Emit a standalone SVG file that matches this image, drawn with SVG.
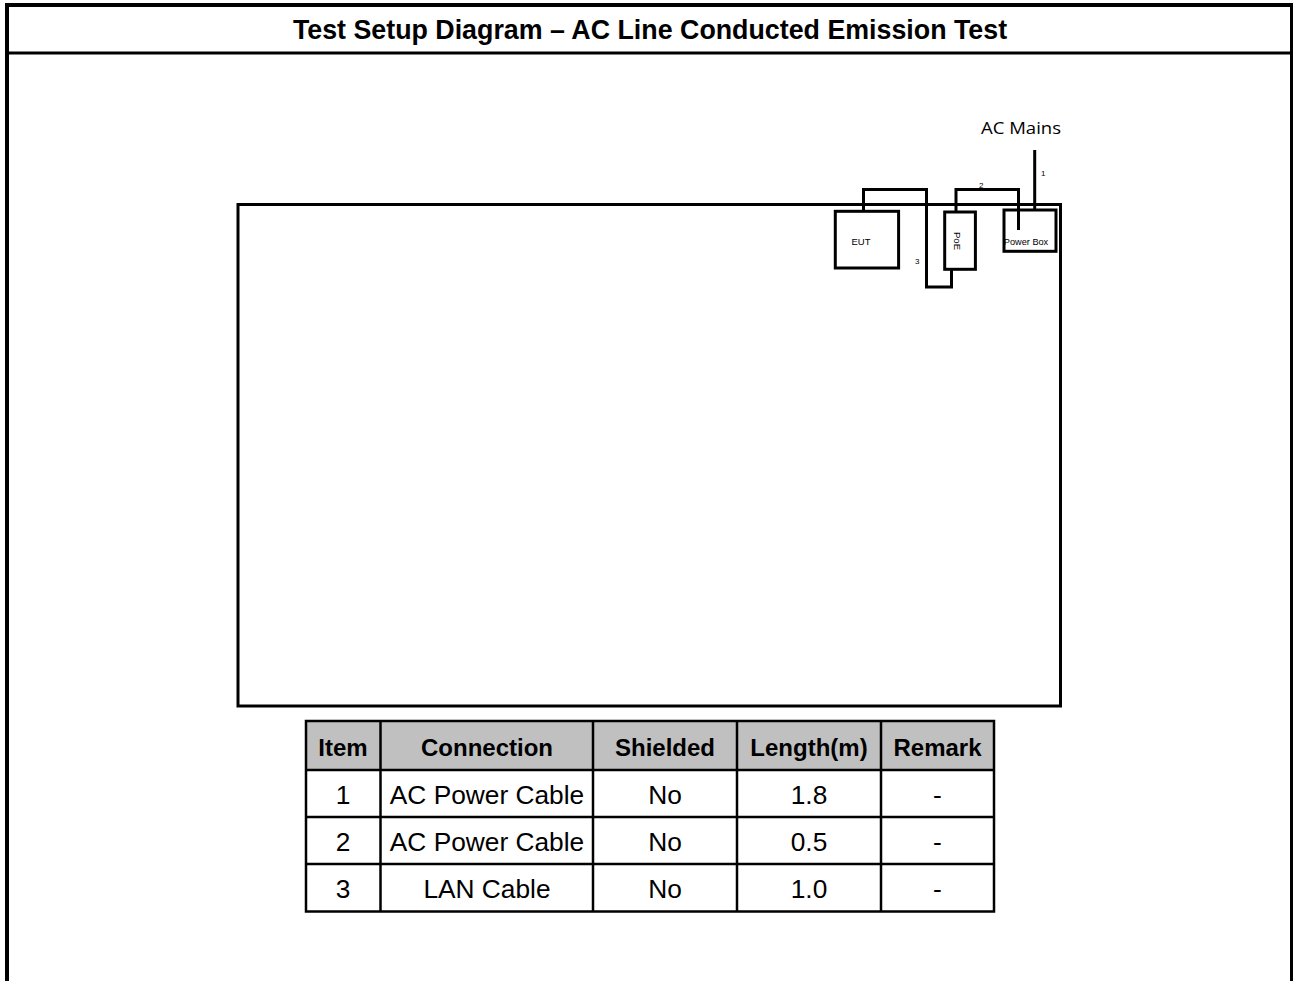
<svg xmlns="http://www.w3.org/2000/svg" width="1293" height="981" viewBox="0 0 1293 981">
<style>
.ln{stroke:#000;fill:none}
.box{stroke:#000;stroke-width:3;fill:#fff}
.cab{stroke:#000;stroke-width:3;fill:none}
.sm{font-family:"Liberation Sans",Arial,sans-serif;fill:#000}
.th{font-family:"Liberation Sans",Arial,sans-serif;font-weight:bold;font-size:24px;text-anchor:middle;fill:#000}
.td{font-family:"Liberation Sans",Arial,sans-serif;font-size:26.3px;text-anchor:middle;fill:#000}
.tl{stroke:#000;stroke-width:2.5;fill:none}
</style>
<rect x="0" y="0" width="1293" height="981" fill="#fff"/>
<g id="frame">
<line class="ln" x1="7" y1="3" x2="7" y2="981" stroke-width="4"/>
<line class="ln" x1="5" y1="5" x2="1293" y2="5" stroke-width="4"/>
<line class="ln" x1="7" y1="53" x2="1292" y2="53" stroke-width="3"/>
<line class="ln" x1="1291.5" y1="3" x2="1291.5" y2="981" stroke-width="3"/>
</g>
<g id="title">
<text x="650" y="38.5" style="font-family:'Liberation Sans',Arial,sans-serif;font-weight:bold;font-size:26.8px;text-anchor:middle">Test Setup Diagram – AC Line Conducted Emission Test</text>
</g>
<g id="test-table">
<rect x="238" y="204.5" width="822.5" height="501.5" class="ln" stroke-width="3"/>
</g>
<g id="eut">
<rect class="box" x="835.3" y="211.3" width="63.3" height="56.7"/>
<text class="sm" x="861" y="245" font-size="9.5" text-anchor="middle">EUT</text>
</g>
<g id="poe">
<rect class="box" x="944.7" y="212" width="30.7" height="57.3"/>
<text class="sm" font-size="9.5" text-anchor="middle" transform="translate(954,241) rotate(90)">PoE</text>
</g>
<g id="power-box">
<rect class="box" x="1004" y="210" width="52" height="41.3"/>
<text class="sm" x="1026" y="244.5" font-size="9.2" text-anchor="middle">Power Box</text>
</g>
<g id="ac-mains">
<text class="sm" x="981" y="134" font-size="17" textLength="80" lengthAdjust="spacingAndGlyphs" style="font-family:'Open Sans','Noto Sans',sans-serif">AC Mains</text>
</g>
<g id="connectors">
<path class="cab" d="M863.5,211 V189.5 H926.5 V287 H951.5 V270"/>
<path class="cab" d="M956,211 V189.5 H1018.5 V230"/>
<path class="cab" d="M1034.7,150 V210"/>
<text class="sm" x="1041" y="176" font-size="8">1</text>
<text class="sm" x="979" y="188" font-size="8">2</text>
<text class="sm" x="915" y="264" font-size="8">3</text>
</g>
<g id="cable-table">
<rect x="306" y="721" width="688" height="49" fill="#c0c0c0"/>
<rect x="306" y="721" width="688" height="190.5" class="tl"/>
<line class="tl" x1="306" y1="770" x2="994" y2="770"/>
<line class="tl" x1="306" y1="817" x2="994" y2="817"/>
<line class="tl" x1="306" y1="864" x2="994" y2="864"/>
<line class="tl" x1="380.5" y1="721" x2="380.5" y2="911.5"/>
<line class="tl" x1="593" y1="721" x2="593" y2="911.5"/>
<line class="tl" x1="737" y1="721" x2="737" y2="911.5"/>
<line class="tl" x1="881" y1="721" x2="881" y2="911.5"/>
<text class="th" x="343" y="756">Item</text>
<text class="th" x="487" y="756">Connection</text>
<text class="th" x="665" y="756">Shielded</text>
<text class="th" x="809" y="756">Length(m)</text>
<text class="th" x="937.5" y="756">Remark</text>
<text class="td" x="343" y="804">1</text>
<text class="td" x="487" y="804">AC Power Cable</text>
<text class="td" x="665" y="804">No</text>
<text class="td" x="809" y="804">1.8</text>
<text class="td" x="937.5" y="804">-</text>
<text class="td" x="343" y="851">2</text>
<text class="td" x="487" y="851">AC Power Cable</text>
<text class="td" x="665" y="851">No</text>
<text class="td" x="809" y="851">0.5</text>
<text class="td" x="937.5" y="851">-</text>
<text class="td" x="343" y="898">3</text>
<text class="td" x="487" y="898">LAN Cable</text>
<text class="td" x="665" y="898">No</text>
<text class="td" x="809" y="898">1.0</text>
<text class="td" x="937.5" y="898">-</text>
</g>
</svg>
